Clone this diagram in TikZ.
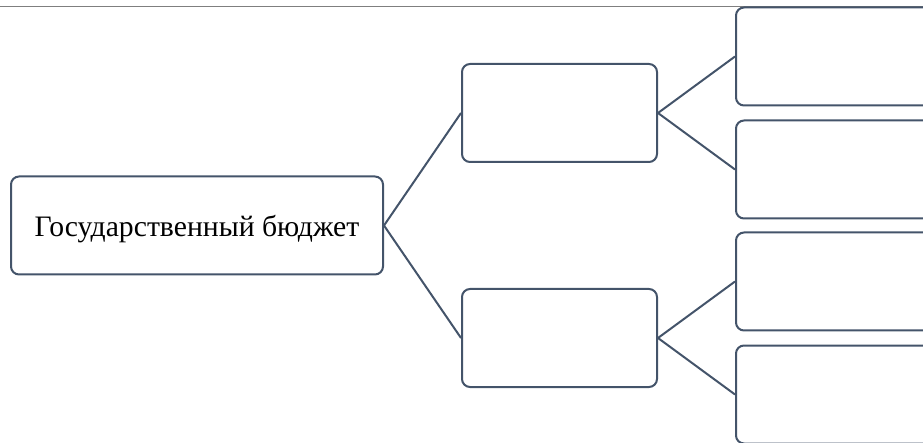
\documentclass[tikz,border=0pt]{standalone}
\usepackage{fontspec}
\setmainfont{Liberation Serif}
\usepackage{xcolor}
\definecolor{boxline}{HTML}{44546A}
\definecolor{ruleline}{HTML}{7F7F7F}

\begin{document}
\begin{tikzpicture}[x=1pt,y=-1pt,grow=right,edge from parent/.style={draw, boxline, line width=2pt},
    edge from parent path={(\tikzparentnode.east) -- (\tikzchildnode.west)}]
    \tikzstyle{box node}=[draw=boxline,line width=2pt,rounded corners=8pt,fill=white,inner sep=0pt,minimum height=98pt]
    \tikzstyle{root node}=[box node,minimum width=372pt,text depth=0pt,font=\fontsize{29.7}{34}\selectfont]
    \tikzstyle{mid node}=[box node,minimum width=195pt]
    \tikzstyle{leaf node}=[box node,minimum width=372pt]
    \tikzstyle{level 1}=[level distance=362.5pt,sibling distance=225pt]
    \tikzstyle{level 2}=[level distance=362.5pt,sibling distance=113pt]

    \useasboundingbox (0,0) rectangle (923,443);
    \clip (0,0) rectangle (923,443);
% top rule
    \draw[ruleline, line width=1.5pt] (0,6.5) -- (923,6.5);

    \node(0)[root node] at (197,225.5) {Государственный бюджет}
        child{node(1)[mid node]{}
            child{node(3)[leaf node]{}}
            child{node(4)[leaf node]{}}
        }
        child{node(2)[mid node]{}
            child{node(5)[leaf node]{}}
            child{node(6)[leaf node]{}}
        }
        ;
\end{tikzpicture}
\end{document}
